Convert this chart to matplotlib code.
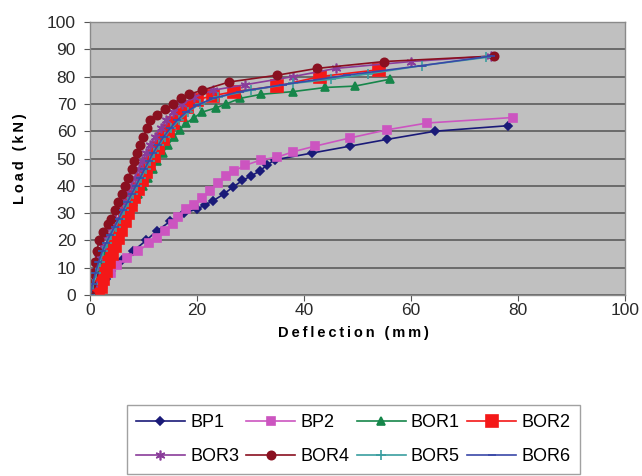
import matplotlib
matplotlib.use("Agg")
import matplotlib.pyplot as plt

plt.rcParams['font.family'] = ['Liberation Sans', 'DejaVu Sans']

# load-deflection curves
bp1_x = [1, 2, 3, 4, 6, 8, 10.5, 12.5, 15, 17.5, 20, 21.5, 23, 25, 26.7, 28.5, 30, 31.8, 33, 34.5,
         41.5, 48.5, 55.5, 64.5, 78]
bp1_y = [0, 3, 6, 9, 13, 16, 20, 23.5, 27, 30, 31.5, 33, 34.5, 37, 39.5, 42, 43.5, 45.5, 47.5, 49.5,
         52, 54.5, 57, 60, 62]

bp2_x = [1, 2.5, 4, 5, 7, 9, 11, 12.5, 14, 15.5, 16.5, 18, 19.5, 21, 22.5, 24, 25.5, 27, 29, 32, 35,
         38, 42, 48.5, 55.5, 63, 79]
bp2_y = [0, 4, 8, 11, 13.5, 16, 19, 21, 23.5, 26, 28.5, 31.5, 33, 35.5, 38, 41, 43.5, 45.5, 47.5,
         49.5, 50.5, 52.5, 54.5, 57.5, 60.5, 63, 65]

bor1_x = [0.5, 1, 1.6, 2.3, 3, 3.8, 4.6, 5.4, 6.3, 7.2, 8.1, 9, 9.9, 10.8, 11.7, 12.6, 13.6, 14.6,
          15.7, 16.8, 18, 19.5, 21, 23.5, 25.5, 28, 32, 38, 44, 49.5, 56]
bor1_y = [0, 4, 8, 12, 16, 19, 22, 25, 28, 31, 34, 37, 40, 43, 46, 49, 52, 55, 58, 60.5, 63, 65, 67,
          68.5, 70, 72, 73.5, 74.5, 76, 76.5, 79]

bor2_x = [1.5, 2, 2.5, 3, 3.5, 4.1, 4.7, 5.3, 5.9, 6.5, 7.1, 7.7, 8.3, 9, 9.7, 10.4, 11.1, 11.9, 12.7,
          13.6, 14.5, 15.6, 16.8, 18.2, 20, 23, 27, 35, 43, 54]
bor2_y = [0, 3, 6, 9, 12, 15, 18, 21, 24, 27, 30, 33, 36, 39, 42, 45, 48, 51, 54, 57, 60, 63, 66, 69,
          71.5, 73, 74.5, 76.5, 80, 82.5]

bor3_x = [0, 0.5, 1, 1.5, 2.2, 3, 3.8, 4.6, 5.4, 6.2, 7, 7.7, 8.4, 9.1, 9.8, 10.5, 11.3, 12.2, 13.2,
          14.3, 15.6, 17.2, 19.5, 23, 29, 38, 46, 60, 75]
bor3_y = [0, 4, 9, 14, 18, 22, 25, 28, 31, 34, 37, 40, 43, 46, 49, 52, 55, 58, 61, 64, 67, 70, 72.5,
          75, 77, 80, 83, 85.5, 87.5]

bor4_x = [0, 0.3, 0.6, 1, 1.3, 1.7, 2.5, 3.3, 4, 4.7, 5.3, 6, 6.6, 7.2, 7.8, 8.3, 8.8, 9.3, 10, 10.6,
          11.3, 12.5, 14, 15.5, 17, 18.5, 21, 26, 35, 42.5, 55, 75.5]
bor4_y = [0, 4, 8, 12, 16, 20, 23, 26, 28, 31, 34, 37, 40, 43, 46, 49, 52, 55, 58, 61, 64, 66, 68,
          70, 72, 73.5, 75, 78, 80.5, 83, 85.5, 87.5]

bor5_x = [0, 0.6, 1.2, 1.8, 2.5, 3.2, 4, 4.8, 5.6, 6.4, 7.2, 8, 8.8, 9.6, 10.4, 11.2, 12, 13, 14,
          15.2, 16.6, 18.3, 20.5, 24, 30, 38, 45, 52, 62, 74]
bor5_y = [0, 4, 8, 12, 16, 19, 22, 25, 28, 31, 34, 37, 40, 43, 46, 49, 52, 55, 58, 61, 64, 67, 70,
          72.5, 75, 77.5, 79, 81, 84, 87]

bor6_x = [0, 0.5, 1, 1.6, 2.3, 3, 3.8, 4.6, 5.4, 6.2, 7, 7.8, 8.6, 9.4, 10.2, 11, 11.8, 12.8, 13.8,
          15, 16.3, 18, 20, 23, 28, 36, 48, 62, 75]
bor6_y = [0, 4, 8, 12, 16, 19, 22, 25, 28, 31, 34, 37, 40, 43, 46, 49, 52, 55, 58, 61, 64, 67, 69.5,
          72, 74.5, 77, 80.5, 84, 87.5]

x_ticks = [0, 20, 40, 60, 80, 100]
y_ticks = [0, 10, 20, 30, 40, 50, 60, 70, 80, 90, 100]

fig = plt.figure(figsize=(6.42, 4.76), dpi=100)
ax = fig.add_axes([0.140, 0.380, 0.834, 0.574])
ax.set_facecolor("#c0c0c0")

series = [
    ("BP1", bp1_x, bp1_y, "#1a1a78", "D", 4.5),
    ("BP2", bp2_x, bp2_y, "#cc55c0", "s", 5.5),
    ("BOR1", bor1_x, bor1_y, "#16864a", "^", 6),
    ("BOR2", bor2_x, bor2_y, "#f41818", "s", 8),
    ("BOR3", bor3_x, bor3_y, "#8a3c9a", (6, 2, 0), 7),
    ("BOR4", bor4_x, bor4_y, "#8a1020", "o", 6),
    ("BOR5", bor5_x, bor5_y, "#3a9ea0", "+", 7),
    ("BOR6", bor6_x, bor6_y, "#3a48a8", "_", 6),
]

lines = {}
for name, xs, ys, col, mk, ms in series:
    lines[name], = ax.plot(xs, ys, color=col, marker=mk, markersize=ms, linewidth=1.2,
                           markeredgewidth=1.2, label=name)

ax.set_xlim(0, 100)
ax.set_ylim(0, 100)
ax.set_xticks(x_ticks)
ax.set_yticks(y_ticks)
ax.tick_params(labelsize=12.5, colors="#2a2a2a", length=4, color="#555555")
ax.tick_params(axis="x", pad=2)
ax.tick_params(axis="y", pad=6)
ax.grid(axis="y", color="#6a6a6a", linewidth=1.4)
ax.set_axisbelow(True)
for s in ax.spines.values():
    s.set_color("#8a8a8a")
    s.set_linewidth(1.0)

# spaced-out bold axis titles like the original
fig.text(353 / 642, 1 - 333 / 476, "\u2009".join("Deflection (mm)"), fontsize=10.5,
         fontweight="bold", ha="center", va="center")
fig.text(20 / 642, 1 - 159 / 476, "\u2009".join("Load (kN)"), fontsize=10.5,
         fontweight="bold", ha="center", va="center", rotation=90)

# legend filled row by row (matplotlib fills columns, so reorder)
order = ["BP1", "BOR3", "BP2", "BOR4", "BOR1", "BOR5", "BOR2", "BOR6"]
leg = ax.legend([lines[k] for k in order], order, loc="upper left",
                bbox_to_anchor=(127 / 642, 1 - 405 / 476),
                bbox_transform=fig.transFigure, ncol=4, fontsize=13,
                frameon=True, fancybox=False, edgecolor="#8a8a8a",
                handlelength=2.7, columnspacing=0.4, handletextpad=0.3,
                borderpad=0.5, labelspacing=0.95, borderaxespad=0)
leg.get_frame().set_linewidth(1.0)

fig.savefig("out.png", dpi=100)
